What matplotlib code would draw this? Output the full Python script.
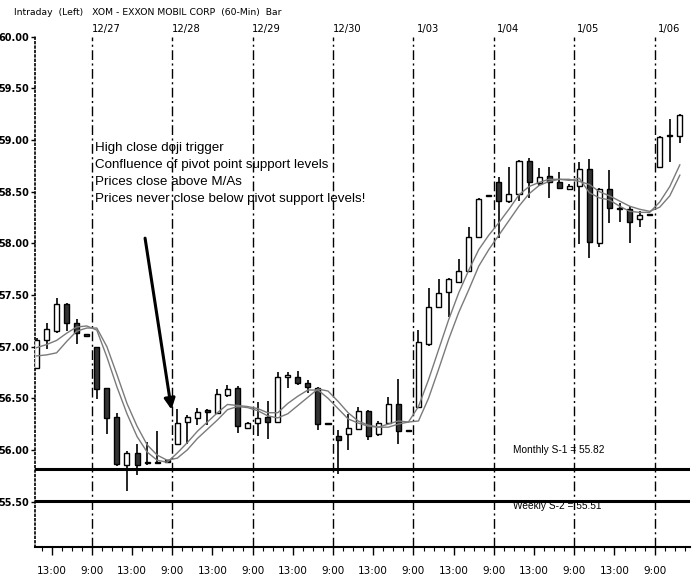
import numpy as np
import matplotlib
matplotlib.use("Agg")
import matplotlib.pyplot as plt
import matplotlib.transforms as mtransforms

# hourly XOM bars, 8 bars per session; first session only partly shown
opens = [56.79, 57.06, 57.15, 57.41, 57.23, 57.12,
         57.00, 56.60, 56.32, 55.85, 55.97, 55.88, 55.87, 55.90,
         56.06, 56.27, 56.31, 56.38, 56.36, 56.53, 56.60, 56.21,
         56.26, 56.32, 56.27, 56.71, 56.71, 56.65, 56.60, 56.255,
         56.13, 56.15, 56.20, 56.38, 56.15, 56.26, 56.44, 56.185,
         56.42, 57.03, 57.38, 57.53, 57.63, 57.73, 58.06, 58.465,
         58.59, 58.41, 58.48, 58.80, 58.58, 58.65, 58.59, 58.53,
         58.56, 58.72, 58.00, 58.53, 58.335, 58.33, 58.24, 58.275,
         58.74, 59.04, 59.04]
highs = [57.08, 57.23, 57.47, 57.42, 57.27, 57.12,
         57.00, 56.60, 56.36, 55.99, 56.06, 56.08, 56.18, 55.90,
         56.40, 56.34, 56.41, 56.40, 56.59, 56.63, 56.62, 56.27,
         56.46, 56.47, 56.75, 56.75, 56.76, 56.68, 56.61, 56.255,
         56.19, 56.35, 56.42, 56.39, 56.28, 56.51, 56.69, 56.185,
         57.16, 57.57, 57.65, 57.66, 57.85, 58.16, 58.44, 58.465,
         58.64, 58.74, 58.81, 58.83, 58.73, 58.74, 58.69, 58.57,
         58.79, 58.82, 58.54, 58.71, 58.39, 58.36, 58.31, 58.275,
         59.04, 59.20, 59.25]
lows = [56.78, 56.98, 57.13, 57.15, 57.03, 57.09,
        56.49, 56.15, 55.84, 55.60, 55.76, 55.85, 55.86, 55.87,
        56.05, 56.06, 56.24, 56.24, 56.35, 56.51, 56.16, 56.20,
        56.13, 56.11, 56.26, 56.60, 56.63, 56.55, 56.19, 56.245,
        55.77, 56.00, 56.19, 56.10, 56.13, 56.25, 56.06, 56.175,
        56.41, 57.01, 57.37, 57.29, 57.62, 57.72, 58.05, 58.455,
        58.05, 58.39, 58.41, 58.44, 58.56, 58.44, 58.53, 58.52,
        57.99, 57.86, 57.96, 58.20, 58.21, 58.00, 58.16, 58.265,
        58.73, 58.79, 58.97]
closes = [57.06, 57.17, 57.41, 57.23, 57.13, 57.10,
          56.59, 56.31, 55.86, 55.97, 55.85, 55.87, 55.88, 55.88,
          56.26, 56.32, 56.37, 56.37, 56.54, 56.59, 56.23, 56.26,
          56.31, 56.27, 56.71, 56.715, 56.65, 56.61, 56.25, 56.25,
          56.10, 56.21, 56.38, 56.13, 56.26, 56.44, 56.18, 56.18,
          57.04, 57.38, 57.52, 57.65, 57.73, 58.06, 58.43, 58.46,
          58.41, 58.48, 58.80, 58.59, 58.64, 58.59, 58.54, 58.56,
          58.72, 58.01, 58.53, 58.34, 58.33, 58.21, 58.27, 58.27,
          59.03, 59.045, 59.24]

# two moving averages as plotted
ma_fast = [56.99, 57.02, 57.06, 57.13, 57.19, 57.20,
           57.16, 56.90, 56.61, 56.35, 56.13, 55.98, 55.90, 55.88,
           55.97, 56.07, 56.18, 56.27, 56.36, 56.44, 56.43, 56.42,
           56.40, 56.36, 56.36, 56.45, 56.52, 56.58, 56.58, 56.50,
           56.40, 56.30, 56.26, 56.23, 56.22, 56.25, 56.28, 56.27,
           56.42, 56.68, 56.97, 57.26, 57.52, 57.74, 57.94, 58.08,
           58.20, 58.33, 58.47, 58.55, 58.59, 58.62, 58.62, 58.61,
           58.63, 58.49, 58.44, 58.42, 58.36, 58.31, 58.30, 58.30,
           58.40, 58.55, 58.76]
ma_slow = [56.91, 56.92, 56.94, 57.05, 57.15, 57.18,
           57.18, 57.00, 56.73, 56.45, 56.23, 56.05, 55.95, 55.90,
           55.92, 56.00, 56.11, 56.20, 56.29, 56.39, 56.42, 56.41,
           56.38, 56.33, 56.31, 56.35, 56.43, 56.51, 56.59, 56.57,
           56.47, 56.36, 56.28, 56.24, 56.22, 56.22, 56.25, 56.27,
           56.28, 56.50, 56.78, 57.07, 57.33, 57.55, 57.78, 57.94,
           58.08, 58.22, 58.36, 58.48, 58.56, 58.60, 58.62, 58.62,
           58.60, 58.57, 58.50, 58.46, 58.41, 58.36, 58.33, 58.31,
           58.35, 58.46, 58.66]

day_labels = ["12/27", "12/28", "12/29", "12/30", "1/03", "1/04", "1/05", "1/06"]
hour_labels = ["9:00", "13:00"]
pivots = [55.82, 55.51]
pivot_labels = ["Monthly S-1 = 55.82", "Weekly S-2 = 55.51"]
notes = ["High close doji trigger",
         "Confluence of pivot point support levels",
         "Prices close above M/As",
         "Prices never close below pivot support levels!"]

BARS_PER_DAY = 8
FIRST_BAR = 2  # slot of the first visible bar in the partial session

o = np.array(opens); h = np.array(highs); l = np.array(lows); c = np.array(closes)
x = np.arange(len(o)) + FIRST_BAR + 0.5

fig = plt.figure(figsize=(6.93, 5.80), dpi=100)
ax = fig.add_axes([0.0505, 0.0569, 0.945, 0.8797])

# wicks, then bodies on top
ax.vlines(x, l, h, color="black", lw=1.2, zorder=3)
up = c >= o
body_lo = np.minimum(o, c)
body_h = np.maximum(np.abs(c - o), 0.012)
ax.bar(x[up], body_h[up], bottom=body_lo[up], width=0.5, color="white",
       edgecolor="black", lw=1.0, zorder=4)
ax.bar(x[~up], body_h[~up], bottom=body_lo[~up], width=0.5, color="#333333",
       edgecolor="black", lw=1.0, zorder=4)

ax.plot(x, ma_fast, color="#7a7a7a", lw=1.0, zorder=5)
ax.plot(x, ma_slow, color="#7a7a7a", lw=1.0, zorder=5)

# session separators
n_days = len(day_labels)
day_x = [BARS_PER_DAY * (d + 1) for d in range(n_days)]
for dx in day_x:
    ax.axvline(dx, color="black", lw=1.0, ls=(0, (7, 2.5, 1.5, 2.5)), zorder=1)

trans = mtransforms.blended_transform_factory(ax.transData, ax.transAxes)
for dx, lab in zip(day_x, day_labels):
    ax.text(dx + 1.4, 1.015, lab, transform=trans, ha="center", va="center",
            fontsize=7.2, family="DejaVu Sans")

fig.text(0.02, 0.978, "Intraday  (Left)   XOM - EXXON MOBIL CORP  (60-Min)  Bar",
         ha="left", va="center", fontsize=6.7, family="DejaVu Sans")

# pivot support levels
for lvl in pivots:
    ax.axhline(lvl, color="black", lw=2.2, zorder=2)
ax.text(54.4, 56.00, pivot_labels[0], ha="center", va="center", fontsize=7.3,
        family=["Liberation Sans Narrow", "Liberation Sans"], zorder=6)
ax.text(54.35, 55.455, pivot_labels[1], ha="center", va="center", fontsize=7.3,
        family=["Liberation Sans Narrow", "Liberation Sans"], zorder=6)

# commentary and arrow to the trigger bar
for i, line in enumerate(notes):
    ax.text(8.35, 58.92 - i * 0.165, line, ha="left", va="center",
            fontsize=9.6, family="Liberation Sans", zorder=6)
ax.annotate("", xy=(15.93, 56.39), xytext=(13.3, 58.05),
            arrowprops=dict(arrowstyle="-|>", lw=2.2, color="black",
                            mutation_scale=16, shrinkA=0, shrinkB=0))

ax.set_xlim(2.35, 67.5)
ax.set_ylim(55.06, 60.0)

yt = np.arange(55.5, 60.01, 0.5)
ax.set_yticks(yt)
ax.set_yticklabels(["%.2f" % v for v in yt], fontweight="bold", fontsize=7)
ax.yaxis.set_minor_locator(matplotlib.ticker.MultipleLocator(0.1))

major_x = []
major_lab = []
for d in range(n_days + 1):
    for k, lab in zip([0, 4], hour_labels):
        pos = BARS_PER_DAY * d + k
        if 2.35 < pos < 67.5:
            major_x.append(pos)
            major_lab.append(lab)
ax.set_xticks(major_x)
ax.set_xticklabels(major_lab, fontsize=7.5)
ax.set_xticks(np.arange(3, 68, 1), minor=True)

ax.tick_params(axis="both", which="major", length=6, width=1.0,
               direction="out", color="black")
ax.tick_params(axis="both", which="minor", length=3, width=0.8, direction="out")
ax.tick_params(axis="x", pad=8)
ax.tick_params(axis="y", length=3, pad=1)
ax.tick_params(axis="y", which="minor", length=0)

for side in ["top", "right"]:
    ax.spines[side].set_visible(False)
ax.spines["left"].set_linestyle(":")
ax.spines["left"].set_linewidth(1.2)
ax.spines["bottom"].set_linewidth(1.5)

fig.savefig("out.png", dpi=100)
